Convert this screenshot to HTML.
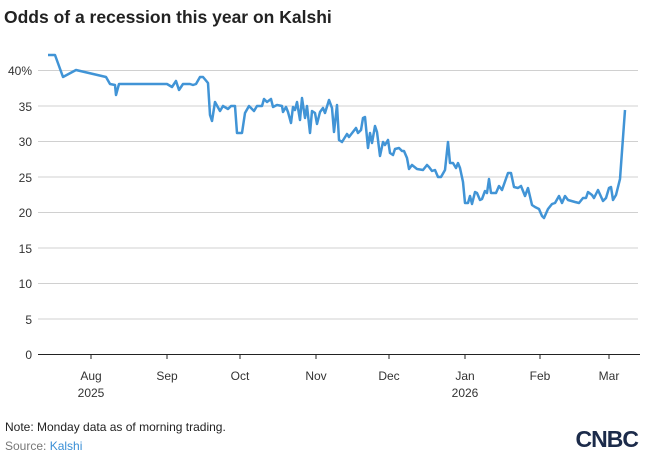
<!DOCTYPE html>
<html><head><meta charset="utf-8"><style>
body{margin:0;background:#fff;width:648px;height:457px;overflow:hidden;font-family:"Liberation Sans",sans-serif}
</style></head><body>
<svg width="648" height="457" xmlns="http://www.w3.org/2000/svg" font-family="Liberation Sans, sans-serif">
<text x="4" y="23" font-size="17.5" font-weight="bold" fill="#222">Odds of a recession this year on Kalshi</text>
<g stroke="#d0d0d0" stroke-width="1">
<line x1="38" x2="638" y1="70.5" y2="70.5"/><line x1="38" x2="638" y1="106" y2="106"/>
<line x1="38" x2="638" y1="141.5" y2="141.5"/><line x1="38" x2="638" y1="177" y2="177"/>
<line x1="38" x2="638" y1="212.5" y2="212.5"/><line x1="38" x2="638" y1="248" y2="248"/>
<line x1="38" x2="638" y1="283.5" y2="283.5"/><line x1="38" x2="638" y1="319" y2="319"/>
</g>
<line x1="38" x2="640" y1="354.5" y2="354.5" stroke="#222" stroke-width="1"/>
<g stroke="#222"><line x1="91" x2="91" y1="354" y2="359"/><line x1="167" x2="167" y1="354" y2="359"/><line x1="240" x2="240" y1="354" y2="359"/><line x1="316" x2="316" y1="354" y2="359"/><line x1="389" x2="389" y1="354" y2="359"/><line x1="465" x2="465" y1="354" y2="359"/><line x1="540" x2="540" y1="354" y2="359"/><line x1="609" x2="609" y1="354" y2="359"/></g>
<g font-size="12" fill="#333" text-anchor="end">
<text x="32" y="75">40%</text><text x="32" y="111">35</text><text x="32" y="146">30</text><text x="32" y="182">25</text><text x="32" y="217">20</text><text x="32" y="253">15</text><text x="32" y="288">10</text><text x="32" y="324">5</text><text x="32" y="359">0</text>
</g>
<g font-size="12" fill="#333" text-anchor="middle">
<text x="91" y="380">Aug</text><text x="91" y="397">2025</text><text x="167" y="380">Sep</text><text x="240" y="380">Oct</text><text x="316" y="380">Nov</text><text x="389" y="380">Dec</text><text x="465" y="380">Jan</text><text x="465" y="397">2026</text><text x="540" y="380">Feb</text><text x="609" y="380">Mar</text>
</g>
<polyline fill="none" stroke="#4194d6" stroke-width="2.5" stroke-linejoin="round" points="48,55 55,55 63,77 76,70 106,77 110,84 115,85 116,95 119,84 167,84 172,87 176,81 179,90 183,84 190,84 193,85 196,84 200,77 203,77 208,83 210,115 212,121 215,102 220,111 223,106 228,109 231,106 235,106 237,133 242,133 245,113 249,106 254,111 257,106 262,106 264,99 267,102 271,99 273,107 277,105 282,106 283,112 286,107 288,112 291,123 293,107 295,110 297,102 300,120 302,98 305,118 307,106 310,133 312,111 315,113 317,124 320,112 323,108 325,113 329,100 332,108 334,132 337,105 339,140 342,142 347,134 349,137 356,128 358,133 361,130 363,118 365,117 368,148 370,133 372,143 375,126 377,132 380,156 383,142 385,145 388,140 390,153 393,155 395,149 399,148 402,151 404,151 407,158 409,169 412,165 417,169 423,170 427,165 429,167 432,171 435,170 438,177 441,177 445,170 448,142 450,163 453,163 456,168 458,163 460,168 463,182 465,203 468,203 470,196 472,204 475,192 477,193 480,200 482,199 485,191 487,193 489,179 491,193 496,193 499,186 502,190 508,173 511,173 514,187 518,188 521,186 525,196 528,188 532,205 535,207 539,209 542,216 544,218 548,209 552,204 555,203 559,196 562,203 565,196 568,200 575,202 579,203 583,198 586,198 588,192 592,195 594,198 598,190 603,201 606,198 609,188 611,187 613,200 616,195 620,179 625,110"/>
<text x="5" y="431" font-size="12" fill="#222">Note: Monday data as of morning trading.</text>
<text x="5" y="450" font-size="12" fill="#777">Source: <tspan fill="#3a8fd6">Kalshi</tspan></text>
<text x="638" y="447" font-size="23" font-weight="bold" fill="#1c2b4a" text-anchor="end" letter-spacing="-1">CNBC</text>
</svg>
</body></html>
